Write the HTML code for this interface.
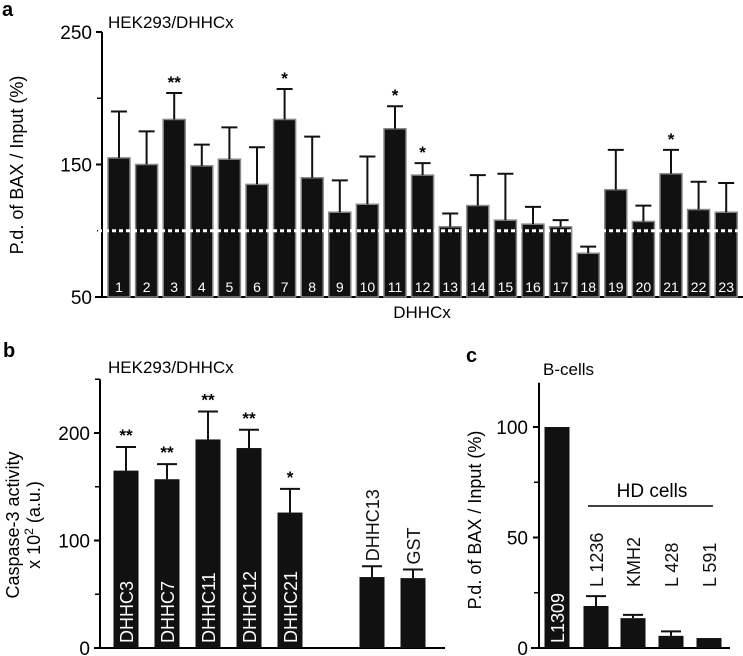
<!DOCTYPE html>
<html><head><meta charset="utf-8"><style>
html,body{margin:0;padding:0;background:#fff}
svg{display:block;font-family:"Liberation Sans",sans-serif}
</style></head><body>
<svg id="fig" width="743" height="656" viewBox="0 0 743 656" xmlns="http://www.w3.org/2000/svg">
<g id="pa"></g>
<g id="pb"></g>
<g id="pc"></g>
</svg>
<script>
// Panel a data
const aCats = ["1","2","3","4","5","6","7","8","9","10","11","12","13","14","15","16","17","18","19","20","21","22","23"];
const aVals = [155,150,184,149,154,135,184,140,114,120,177,142,103,119,108,105,103,83,131,107,143,116,114];
const aErrs = [35,25,20,16,24,28,23,31,24,36,17,9,10,23,35,13,5,5,30,12,18,21,22];
const aStars = ["","","**","","","","*","","","","*","*","","","","","","","","","*","",""];
const aTicks = [50,150,250];
const aMinor = [100,200];
// Panel b data
const bCats = ["DHHC3","DHHC7","DHHC11","DHHC12","DHHC21","DHHC13","GST"];
const bVals = [165,157,194,186,126,66,65];
const bErrs = [22,14,26,17,22,10,8];
const bStars = ["**","**","**","**","*","",""];
const bTicks = [0,100,200];
const bMinor = [50,150,250];
// Panel c data
const cCats = ["L1309","L 1236","KMH2","L 428","L 591"];
const cVals = [100,19,13.5,5.5,4.5];
const cErrs = [0,4.5,1.5,2,0];
const cTicks = [0,50,100];
const cMinor = [25,75];

const NS="http://www.w3.org/2000/svg";
function mk(parent,tag,attrs,text){const e=document.createElementNS(NS,tag);for(const k in attrs)e.setAttribute(k,attrs[k]);if(text!==undefined)e.textContent=text;parent.appendChild(e);return e;}

// ---------- Panel a ----------
const pa=document.getElementById('pa');
const ya=v=>297-(v-50)*1.325;
const xa=i=>119+i*27.6;
let t=mk(pa,'text',{x:2,y:16,'font-size':20,'font-weight':'bold'},'a');

t=mk(pa,'text',{x:108,y:28,'font-size':17},'HEK293/DHHCx');

t=mk(pa,'line',{x1:102,y1:ya(250),x2:102,y2:297,stroke:'#000','stroke-width':2});

t=mk(pa,'line',{x1:95,y1:297,x2:743,y2:297,stroke:'#000','stroke-width':2});

aTicks.forEach(v=>{
 let l=mk(pa,'line',{x1:96,y1:ya(v),x2:102,y2:ya(v),stroke:'#000','stroke-width':2});
 
 let s=mk(pa,'text',{x:92,y:ya(v)+7,'font-size':19,'text-anchor':'end'},String(v));
 
});
aMinor.forEach(v=>{
 let l=mk(pa,'line',{x1:97,y1:ya(v),x2:102,y2:ya(v),stroke:'#000','stroke-width':1.5});
 
});
t=mk(pa,'text',{x:0,y:0,'font-size':18,'text-anchor':'middle',transform:'translate(23,165) rotate(-90)'},'P.d. of BAX / Input (%)');

t=mk(pa,'text',{x:422,y:318,'font-size':17,'text-anchor':'middle'},'DHHCx');

aVals.forEach((v,i)=>{
 const x=xa(i),w=22;
 let b=mk(pa,'rect',{x:x-w/2,y:ya(v),width:w,height:297-ya(v),fill:'#111',stroke:'#888','stroke-width':1.5});
 
 const te=ya(v+aErrs[i]);
 let e=mk(pa,'path',{d:`M${x} ${ya(v)}V${te}M${x-8} ${te}H${x+8}`,stroke:'#111','stroke-width':2,fill:'none'});
 
 let n=mk(pa,'text',{x:x,y:292,'font-size':14,'text-anchor':'middle',fill:'#fff'},aCats[i]);
 
 if(aStars[i]){let s=mk(pa,'text',{x:x,y:te-5,'font-size':17,'text-anchor':'middle','font-weight':'bold'},aStars[i]);
 }
});
t=mk(pa,'line',{x1:98,y1:ya(100),x2:743,y2:ya(100),stroke:'#fff','stroke-width':3,'stroke-dasharray':'4 3'});


// ---------- Panel b ----------
const pb=document.getElementById('pb');
const yb=v=>648-v*1.075;
const bX=[126,167,208,249,290,372,413];
t=mk(pb,'text',{x:3,y:357,'font-size':20,'font-weight':'bold'},'b');

t=mk(pb,'text',{x:108,y:373,'font-size':17},'HEK293/DHHCx');

t=mk(pb,'line',{x1:100,y1:yb(250),x2:100,y2:648,stroke:'#000','stroke-width':2});

t=mk(pb,'line',{x1:95,y1:648,x2:445,y2:648,stroke:'#000','stroke-width':2});

bTicks.forEach(v=>{
 let l=mk(pb,'line',{x1:94,y1:yb(v),x2:100,y2:yb(v),stroke:'#000','stroke-width':2});
 
 let s=mk(pb,'text',{x:90,y:yb(v)+7,'font-size':19,'text-anchor':'end'},String(v));
 
});
bMinor.forEach(v=>{
 let l=mk(pb,'line',{x1:95,y1:yb(v),x2:100,y2:yb(v),stroke:'#000','stroke-width':1.5});
 
});
t=mk(pb,'text',{x:0,y:0,'font-size':18,'text-anchor':'middle',transform:'translate(19,525) rotate(-90)'},'Caspase-3 activity');

t=mk(pb,'text',{x:0,y:0,'font-size':18,'text-anchor':'middle',transform:'translate(40,525) rotate(-90)'});

t.innerHTML='x 10<tspan dy="-7" font-size="12">2</tspan><tspan dy="7"> (a.u.)</tspan>';
bVals.forEach((v,i)=>{
 const x=bX[i],w=25;
 let b=mk(pb,'rect',{x:x-w/2,y:yb(v),width:w,height:648-yb(v),fill:'#111'});
 
 const te=yb(v+bErrs[i]);
 let e=mk(pb,'path',{d:`M${x} ${yb(v)}V${te}M${x-10} ${te}H${x+10}`,stroke:'#111','stroke-width':2,fill:'none'});
 
 let n;
 if(i<5) n=mk(pb,'text',{x:0,y:0,'font-size':18,fill:'#fff',transform:`translate(${x+7},643) rotate(-90)`},bCats[i]);
 else n=mk(pb,'text',{x:0,y:0,'font-size':18,fill:'#111',transform:`translate(${x+7},${te-5}) rotate(-90)`},bCats[i]);
 
 if(bStars[i]){let s=mk(pb,'text',{x:x,y:te-6,'font-size':17,'text-anchor':'middle','font-weight':'bold'},bStars[i]);
 }
});

// ---------- Panel c ----------
const pc=document.getElementById('pc');
const yc=v=>648-v*2.21;
const cX=[557,596,633,671,709];
t=mk(pc,'text',{x:466,y:362,'font-size':20,'font-weight':'bold'},'c');

t=mk(pc,'text',{x:543,y:375,'font-size':17},'B-cells');

t=mk(pc,'line',{x1:539,y1:yc(120),x2:539,y2:648,stroke:'#000','stroke-width':2});

t=mk(pc,'line',{x1:531,y1:648,x2:730,y2:648,stroke:'#000','stroke-width':2});

cTicks.forEach(v=>{
 let l=mk(pc,'line',{x1:533,y1:yc(v),x2:539,y2:yc(v),stroke:'#000','stroke-width':2});
 
 let s=mk(pc,'text',{x:528,y:yc(v)+7,'font-size':19,'text-anchor':'end'},String(v));
 
});
cMinor.forEach(v=>{
 let l=mk(pc,'line',{x1:534,y1:yc(v),x2:539,y2:yc(v),stroke:'#000','stroke-width':1.5});
 
});
t=mk(pc,'text',{x:0,y:0,'font-size':18,'text-anchor':'middle',transform:'translate(481,520) rotate(-90)'},'P.d. of BAX / Input (%)');

t=mk(pc,'text',{x:652,y:497,'font-size':19,'text-anchor':'middle'},'HD cells');

t=mk(pc,'line',{x1:588,y1:506,x2:713,y2:506,stroke:'#000','stroke-width':1.5});

cVals.forEach((v,i)=>{
 const x=cX[i],w=25;
 let b=mk(pc,'rect',{x:x-w/2,y:yc(v),width:w,height:648-yc(v),fill:'#111'});
 
 if(cErrs[i]>0){const te=yc(v+cErrs[i]);
 let e=mk(pc,'path',{d:`M${x} ${yc(v)}V${te}M${x-10} ${te}H${x+10}`,stroke:'#111','stroke-width':2,fill:'none'});
 }
 let n;
 if(i===0) n=mk(pc,'text',{x:0,y:0,'font-size':18,fill:'#fff',transform:`translate(${x+7},643) rotate(-90)`},cCats[i]);
 else n=mk(pc,'text',{x:0,y:0,'font-size':18,fill:'#111',transform:`translate(${x+7},587) rotate(-90)`},cCats[i]);
 
});
</script>
</body></html>
